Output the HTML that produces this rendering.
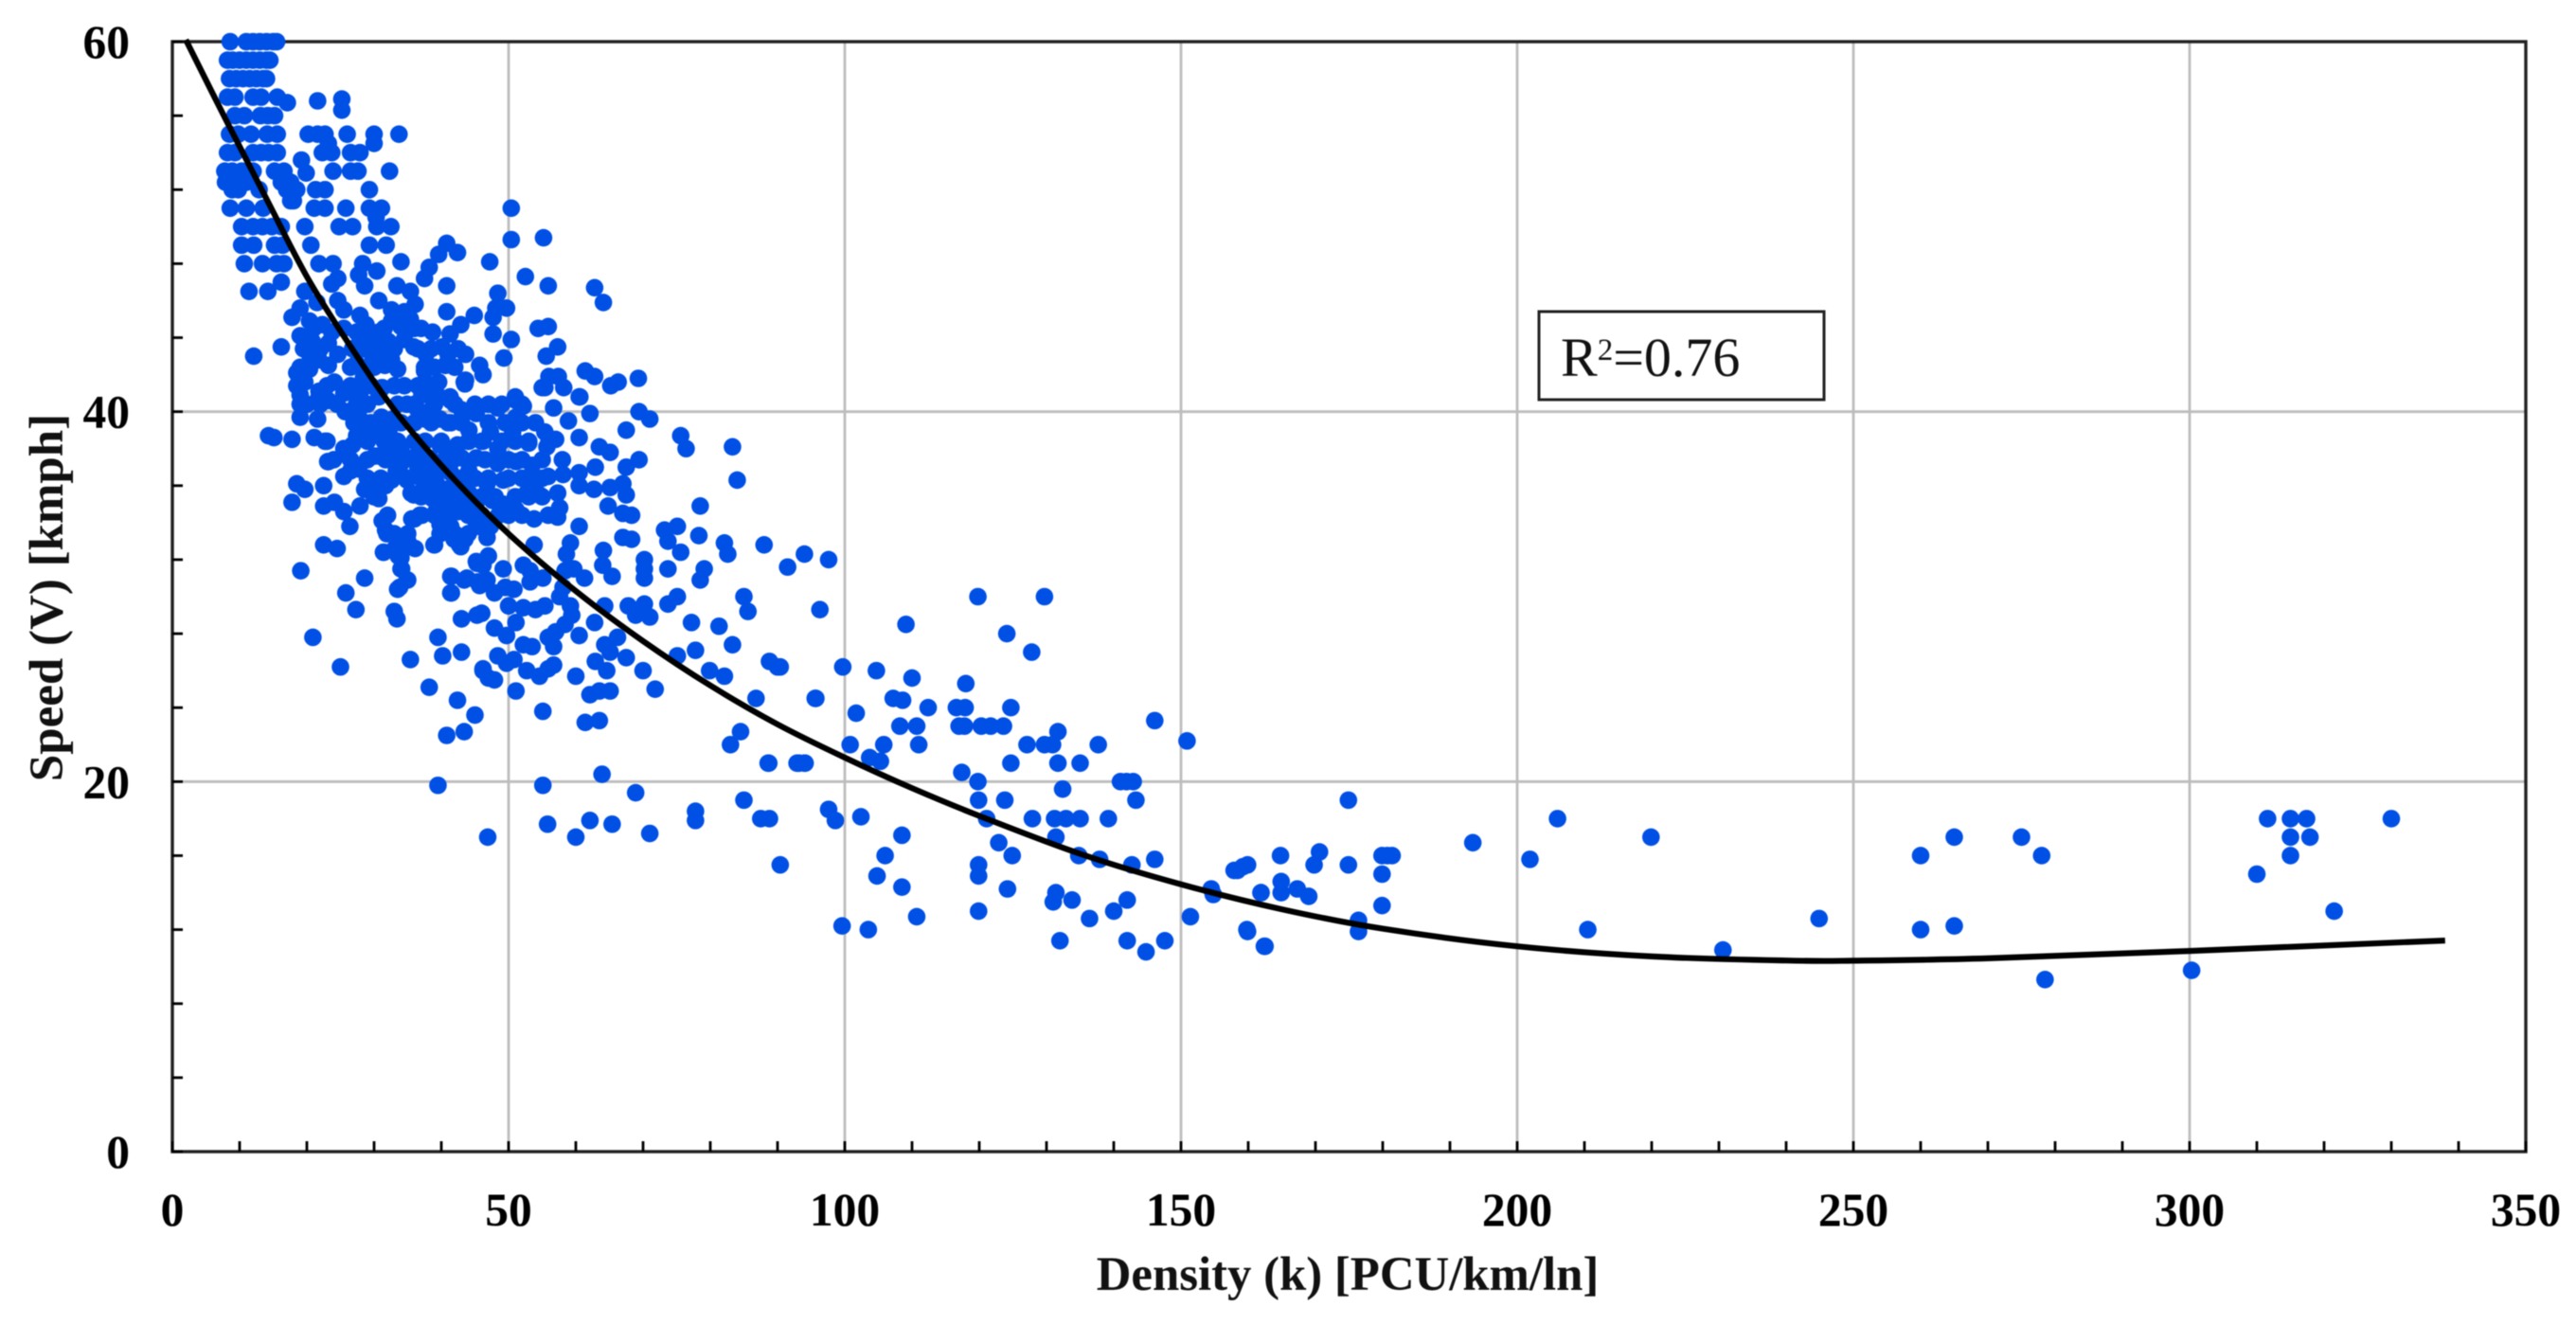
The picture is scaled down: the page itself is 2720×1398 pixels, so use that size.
<!DOCTYPE html>
<html lang="en">
<head>
<meta charset="utf-8">
<title>Speed vs Density</title>
<style>
html,body{margin:0;padding:0;background:#fff;width:2720px;height:1398px;overflow:hidden}
svg{display:block;font-family:"Liberation Serif",serif;filter:blur(0.5px)}
</style>
</head>
<body>
<svg id="chart" xmlns="http://www.w3.org/2000/svg" width="2720" height="1398" viewBox="0 0 2720 1398">
<g id="grid"></g>
<g id="frame"></g>
<g id="ticks"></g>
<g id="labels"></g>
<g id="dots"></g>
<path id="trend" fill="none" stroke="#000" stroke-width="6.2" stroke-linecap="butt" stroke-linejoin="round"></path>
<text x="1423" y="1362" text-anchor="middle" font-weight="bold" font-size="50.8" fill="#111">Density (k) [PCU/km/ln]</text>
<text transform="translate(66 631) rotate(-90)" text-anchor="middle" font-weight="bold" font-size="51" fill="#111">Speed (V) [kmph]</text>
<g>
<rect x="1625" y="329" width="301" height="93" fill="#fff" stroke="#222" stroke-width="3"></rect>
<text x="1648" y="397" font-size="58" fill="#111">R<tspan font-size="33" dy="-17">2</tspan><tspan dy="17">=0.76</tspan></text>
</g>
</svg>
<script>
const xTickLabels=[0,50,100,150,200,250,300,350];
const yTickLabels=[0,20,40,60];
const xMinorStep=10;
const yMinorStep=4;

const trendDensity=[2,8,14,20,26,33,41,50,60,70,80,90,100,110,120,135,150,165,180,200,220,240,250,270,300,338];
const trendSpeed=[60.1,55.75,51.5,47.3,43.8,40.1,36.7,33.4,30.3,27.6,25.2,23.1,21.3,19.65,18.15,16.1,14.45,13.1,12.05,11.1,10.55,10.33,10.32,10.45,10.85,11.41];

const topRowDensity=[
8.6,11,12,13,14,15,15.5,8.2,9,10,
11,12,13,14,14.5,8.5,9.5,10.5,11.5,12.5,
13.5,14,8.2,9.3,12,13.2,15.6,17.1,9.3,10.7,
13.1,14.2,15.2];
const topRowSpeed=[
60,60,60,60,60,60,60,59,59,59,
59,59,59,59,59,58,58,58,58,58,
58,58,57,57,57,57,57,56.7,56,56,
56,56,56];

const midRowDensity=[
8.5,9.8,11.7,14.1,15.6,8.2,9.3,12,13.2,14.3,
15.6,7.8,8.9,10.3,12,15.2,16.6,8.6,16.2,17.6,
8.9,9.8,12.9,17,18.5,17.6,18,8.6,11,13.5,
10.3,12,13.4,14.8,16.2,10.3,12.1,15.2,16.4,10.7,
13.4,15.5,16.6,16.2,11.4,14.2,7.9,9.8,11];
const midRowSpeed=[
55,55,55,55,55,54,54,54,54,54,
54,53,53,53,53,53,53,52.4,52.4,52.4,
52,52,52,52,52,51.4,51.4,51,51,51,
50,50,50,50,50,49,49,49,49,48,
48,48,48,47,46.5,46.5,52.4,52.4,52.4];

const upperDensity=[
21.6,25.2,25.2,20.2,21.6,22.7,26,30,33.7,23.7,
22.3,26.5,27.9,30,23.2,23.9,26.5,27.6,32.3,19.2,
19.9,21.3,22.7,29.3,21.1,22.7,25.8,29.3,31.1,50.4,
19.7,24.8,26.8,30.4,32.5,30.3,20.6,29.3,31.8,50.4,
55.2,21.8,23.9,28.3,30.4,34,40.8,42.4,39.6,38.2,
37.5,47.2,24.6,23.7,28.6,27.7,33.4,35.4,40.8,52.5,
55.9,62.8,64.1,48.4];
const upperSpeed=[
56.8,56.9,56.3,55,55,55,55,55,55,54,
54,54,54,54.5,54.5,53,53,53,53,53.6,
52.9,52,52,52,51,51,51,51,51,51,
50,50,50,50,50,50.5,49,49,49,49.3,
49.4,48,48,48,47.6,48.1,49.1,48.6,48.5,47.8,
47.2,48.1,47.2,46.9,46.8,47.4,46.8,46.5,46.8,47.3,
46.8,46.7,45.9,46.4];

const shoulderDensity=[
19.7,21.5,19,17.8,20.4,24.6,25.5,27.9,30.7,32.6,
34.5,36.1,28.8,30.7,32.6,34,35.4,22.3,23.7,27.4,
19,20.8,23.2,20.4,24.6,27.9,29.8,32.1,34.5,35.9,
37.7,40.1,41,40.8,43.6,45.7,46.2,43.6,37.5,32.6,
33.5,31.6,29.8,18.5,19.7,23.2,21.8,20.4,24.1,27.4,
28.4,31.2,34.5,36.8,39.6,39.4,41.3,21.8,19,25.5,
27.9];
const shoulderSpeed=[
46.5,45.9,45.6,45.1,44.9,46,45.5,45.2,46,45.5,
45.4,45.8,44.7,44.3,44.9,44.6,45,44.7,44.3,44.3,
44.1,43.8,43.7,43.1,43.1,44,43.7,43.8,43.9,43.5,
43.1,43.5,43.1,42.6,43.1,42.5,42,41.7,42.2,42.8,
42.3,42.5,43,42.1,41.6,42.5,42.8,42.3,41.6,42.6,
41.8,41.3,41.4,41.3,41.6,40.9,40.8,41.1,40.9,41,
41];

const eastUpperDensity=[
49.7,48.1,47.7,40.8,44.9,42.9,41.3,38.7,47.7,50.4,
54.4,55.9,57.3,55.6,49.3,61.4,62.8,66.3,65.2,69.3,
56,57.4,55,58.2,60.6,51,12.1,16.2];
const eastUpperSpeed=[
45.6,45.6,45.1,45.4,45.2,44.7,44.2,44.3,44.2,43.9,
44.5,44.6,43.5,43,42.9,42.2,41.9,41.6,41.4,41.8,
41.9,41.9,41.3,41.3,40.8,40.8,43,43.5];

const westDensity=[
14.3,15.1,17.8,19,19,21.6,21.8,23.2,21.1,22.7,
23.2,25.5,27.4,28.8,26,27.4,30.7,25.5,26.5,27.7,
18.5,19.7,17.8,22.5,22.5,24.1,25.5,27.9,26.4,28.6,
30.7,31.4,32.6,33.8,30.7,32.6,34,34,35.9,36.8,
35.6,36.8,31.2,31.9,35,36.1,33.1,31.4,34,34,
35,33.5,38.9,22.5,24.5,19.1,28.6,25.8,27.3,33,
33.4,20.9,25,39.5,35.4,40.2,43,38.2,42.4,45,
40.8,43.4,39.5,43,46,45.3,46.2,47,41.5,43.4,
40.6,39.2,37.8,41,43.4,45.3,42.4,41.5,43.9,40.1,
42,38.7,40.1,42.9,45.3,45.3,41.5,41.5,43.4,45.7];
const westSpeed=[
38.7,38.6,38.5,40.4,39.7,39.6,40.8,40.6,38.6,38.4,
37.3,38,38.7,39,40,40.4,40.8,36.5,36.8,36.9,
36.1,35.8,35.1,36,34.9,35.1,34.6,34.9,33.8,35.8,
35.3,36,36.3,36.7,37.6,37.6,37.9,37.2,35.5,35.6,
34.2,34.4,34.1,33.4,33,32.6,32.6,32.4,32.1,31.5,
30.9,30.4,32.8,32.8,32.6,31.4,31,30.2,29.3,29.2,
28.8,27.8,26.2,27.8,26.6,26.8,27,25.1,24.4,23.6,
22.5,22.7,19.8,28.8,29.1,29,26,25.6,40.6,41.6,
42.5,41.5,39.9,39.4,39.9,40.2,38.2,37.3,36.2,35.3,
34.8,35.3,34.3,32.7,33.8,31.8,31.1,30.2,30.9,30.6];

const coreDensity=[
36.5,38.1,39.8,41.4,37.6,39.2,40.8,42.5,44.1,38.7,
40.3,41.9,43.5,45.2,39.2,40.8,42.5,44.1,39.8,41.4,
36.5,38.1,34.9,33.3,43,44.1,41.9,39.8,37.6,44.1,
45.2,46.2,47.3,44.1,41.4,39.8,43,45.2,37.6,38.7,
37.1,34.9,36.5,32.8,31.1,30.1,27.9,27.6,25.7,32.2,
28.4,26.8,25.7,23.1,31.7,30.1,33.3,35.5,34.9,31.7,
30.6,28.7];
const coreSpeed=[
37,36.7,37,36.7,36,36.2,35.8,36,35.6,35.3,
35.1,35.3,35,35.1,34.6,34.4,34.6,34.4,33.9,33.8,
37.7,37.5,37.5,37.9,37.5,36.8,37.9,38.2,38.4,38.4,
37.5,38.4,38.9,39,39.4,39.6,40.1,39.9,39.6,40.2,
40.9,40.4,40.1,39.6,39.7,38.9,39.6,40.5,40,38.9,
38.9,38.2,37.7,37.3,37.4,37.6,36.8,35.6,36.3,36,
36,35.8];

const coreFillDensity=[
21,25.5,29,31.5,36,37,
19.5,22,26.8,28.5,31,33,36.5,38.5,42.5,
19,26.5,29,30,37.5,39,42,
18.5,23,26.5,29.5,33,36.5,38,
20,22,24.5,29,33.5,36,39,42,45,47,49,52,
27,29.5,31.5,34,36,38.5,43,47,49.5,52,54,
23,29,31.5,33.5,36,40,44,46,49,51,53,56,
24,26.5,29,36,38.5,40.5,46.5,50,52,55,58,
29,31,35,37,39,43,45,47,50,52,55,
30,37,39,41.5,44,46,48,51,53,55,
32,39,44,46,48.5,50,52,
33,35,42,44];
const coreFillSpeed=[
44.5,44.5,44.5,44.5,44.5,44.5,
43.4,43.4,43.4,43.4,43.4,43.4,43.4,43.4,43.4,
42.4,42.4,42.4,42.4,42.4,42.4,42.4,
41.4,41.4,41.4,41.4,41.4,41.4,41.4,
40.4,40.4,40.4,40.4,40.4,40.4,40.4,40.4,40.4,40.4,40.4,40.4,
39.4,39.4,39.4,39.4,39.4,39.4,39.4,39.4,39.4,39.4,39.4,
38.4,38.4,38.4,38.4,38.4,38.4,38.4,38.4,38.4,38.4,38.4,38.4,
37.4,37.4,37.4,37.4,37.4,37.4,37.4,37.4,37.4,37.4,37.4,
36.4,36.4,36.4,36.4,36.4,36.4,36.4,36.4,36.4,36.4,36.4,
35.4,35.4,35.4,35.4,35.4,35.4,35.4,35.4,35.4,35.4,
34.4,34.4,34.4,34.4,34.4,34.4,34.4,
33.4,33.4,33.4,33.4];

const centerDensity=[
48.4,51.1,52.2,51.1,41.4,43.5,55.4,60.5,62.1,56.7,
58.9,67.5,69.4,71,75.6,76.4,83.3,84,78.5,78.3,
75.1,73.2,73.7,75.6,82.1,82.6,88,91.5,94,73.7,
70.2,70.2,70.2,79.1,78.5,85,85.6,75.1,73.7,70.2,
67.8,71,68.9,77.2,81.3,83.3,77.8,75.1,88.8,90,
79.9,82.1,86.8,70,67.5,66.2,64.3,65.1,62.9,64.6,
60,60.5,62.8,64.3,61.3,59.7,58.4,64,65.4,64.1,
71.8,65.1,62.1,63.5,63.5,61.4,55.1,63.9,55.1,68.9,
84.5,83,88.7,93.1,85,77.8,77.8,87.5,88.8,71,
65.4,62.1,55.8,60,46.9];
const centerSpeed=[
40.2,40.6,40.3,39.7,40.6,41.5,41.3,40.8,39.9,40.2,
39.5,39,40,39.6,38.7,38,38.1,36.3,34.9,33.3,
33.8,33.6,33,32.4,32.9,32.3,32.8,31.6,32.3,31.5,
32,31.5,31,31.5,30.9,30,29.2,30,29.6,29.6,
29.5,28.9,29,28.6,28.4,27.4,27.1,26.8,26.5,26.2,
26,25.7,24.5,26,26.7,27.8,27.4,27,26.5,26,
25.7,27.9,28.6,29.5,31,31.5,31.4,31.7,31.1,32.5,
25,24.9,24.7,24.9,23.3,23.2,23.8,20.4,19.8,19.4,
22.7,22,21,21,19,18.4,17.9,18,18,17.2,
17.7,17.9,17.7,17,17];

const ringDensity=[
51.1,47.9,46.2,49.7,48.4,50.8,52.2,53.5,55.9,57,
56.7,56.7,54.6,52.7,55.9,49.7,47.9,43,46,51.1,
50,52.2,54,55.4,59.2,59.4,58.4,57.6,58.1,41.4,
41.4,43.8,45.4,46.8,47.9,49.2,49.5,50.8,45.2,47,
46.2,52.2,53.2,53.2,55.1,53.8,33.8,34.9,34.1,35.5,
31.4,33.6,39,42.7,43.5,41.9,39.8,46.8,45.2,47.3,
36,37.1,31.7,34.9,58.6,59.2,60.5,57.3,55.9,53.8,
51.1,49.2,47.6,57.6,57.3,54.6,52.7,53.5,53.5,55.9,
58.1,60.5,60.5,62.7,65.1,67,67.5,64.8,67,68.3,
67,68.3,62.9,67.5,69.4,63.5,65.1,60.5,55.4,57,
55.7,53,50.6,48.4,51.1,48.4,49.2,46.8];
const ringSpeed=[
24.9,25.5,26.1,26.4,26.8,26.6,27.4,27.3,27.8,28.1,
27.3,26.3,25.7,26,26.1,27.9,28.3,28.8,29.1,28.6,
29.5,29.4,29.3,29.5,29.5,29,28.5,30,30.5,31.1,
30.2,31,30.8,30.9,30.2,31.5,30.5,30.4,31.9,32.2,
31.7,31.7,31.4,30.8,31,32.8,30.5,30.9,31.5,32.7,
32.4,32.2,32.8,32.8,33.1,33.1,33.4,33.2,33.8,33.8,
34.2,34.4,33.6,33.1,32.3,32.9,33.8,34.3,34.4,34.2,
34.7,35,35.2,34.8,35.6,35.5,35.6,37.1,36.3,36.5,
36.6,36.7,36,35.8,35.9,36.1,35.5,34.9,34.5,34.4,
33.2,33.1,37,37,37.4,38.1,37.8,38.6,38.9,38.5,
38.1,38.3,38.9,38,37.3,37.2,36.3,36.1];

const congestedDensity=[
97.6,96.3,109.1,119.8,129.7,124.1,127.8,99.7,104.7,110,
107.2,108.6,112.4,116.6,117.9,118,124.7,101.7,108.2,110.7,
117,117.8,120.3,121.7,123.6,131.7,100.8,105.8,111,127.1,
129.7,130.9,137.7,103.7,105.3,124.7,131.7,135,117.4,119.8,
132.4,141,141.9,142.9,95.6,88.6,92.9,94,146.1,150.9,
143.3,119.9,123.8,127.9,131.2,132.9,135,139.2,121.1,131.4,
122.9,124.9,134.8,137.9,142.7,146.1,119.9,119.9,124.2,131.4,
131,133.8,142,140,136.4,119.9,132,142,144.8,147.6,
151.4,154.5,154.8,157.9,159.2,159.9,161.9,159.9,162.4,97.6,
98.6,102.4,108.5,106,104.8,108.5,110.7,99.6,103.5,90.4,
90.4,95.7,93.2,94.1];
const congestedSpeed=[
32,29.3,28.5,30,30,28,27,26.2,26,25.6,
24.5,24.4,24,24,24,25.3,24,23.7,23,23,
23,23,23,23,23,22.7,22,22,22,22,
22,22,22,21.3,21.1,21,21,21,20.5,20,
19.6,20,20,20,24.5,21,21,21,23.3,22.2,
19,19,19,18,18,18,18,18,18,17,
16.7,16,16,15.8,15.5,15.8,15.5,14.9,14.2,14,
13.5,13.6,13.6,13,12.6,13,11.4,11.4,10.8,11.4,
12.7,14.2,13.9,15.2,15.4,15.5,14,11.9,11.1,18.5,
17.9,18.1,17.1,16,14.9,14.3,12.7,12.2,12,15.5,
26.2,24.5,21,21];

const jamDensity=[
174.9,193.4,206,201.9,219.9,210.5,164.8,170.6,169.8,174.9,
179.9,181.4,180.7,179.9,179.9,164.9,164.9,167.3,169,161.9,
176.4,176.4,159.8,162.5,230.6,158.4,244.9,260,265,260,
265,275,278,278.5,300.3,311.6,315,317.4,315,317.9,
315,310,321.5,330];
const jamSpeed=[
19,16.7,18,15.8,17,12,16,16.2,15.5,15.5,
16,16,16,15,13.3,14.6,14,14.2,13.8,14,
12.5,11.9,12,11.1,10.9,15.2,12.6,16,17,12,
12.2,17,16,9.3,9.8,18,18,18,17,17,
16,15,13,18];

const densityGroups=[topRowDensity,midRowDensity,upperDensity,shoulderDensity,eastUpperDensity,westDensity,coreDensity,coreFillDensity,centerDensity,ringDensity,congestedDensity,jamDensity];
const speedGroups=[topRowSpeed,midRowSpeed,upperSpeed,shoulderSpeed,eastUpperSpeed,westSpeed,coreSpeed,coreFillSpeed,centerSpeed,ringSpeed,congestedSpeed,jamSpeed];

const SVG_NS='http://www.w3.org/2000/svg';
const plotLeft=182,plotRight=2667,plotTop=44,plotBottom=1216;
const xMax=350,yMax=60;
function xScale(k){return plotLeft+k/xMax*(plotRight-plotLeft);}
function yScale(v){return plotBottom-v/yMax*(plotBottom-plotTop);}
function makeEl(tag,parent,attrs){
  const el=document.createElementNS(SVG_NS,tag);
  for(const key in attrs){el.setAttribute(key,attrs[key]);}
  parent.appendChild(el);
  return el;
}

const gridLayer=document.getElementById('grid');
xTickLabels.forEach(function(t){
  if(t===0||t===xMax){return;}
  const line=makeEl('line',gridLayer,{x1:xScale(t),x2:xScale(t),y1:plotTop,y2:plotBottom,stroke:'#bdbdbd','stroke-width':2.8});
  
  
});
yTickLabels.forEach(function(t){
  if(t===0||t===yMax){return;}
  const line=makeEl('line',gridLayer,{x1:plotLeft,x2:plotRight,y1:yScale(t),y2:yScale(t),stroke:'#bdbdbd','stroke-width':2.8});
  
  
});

const frameLayer=document.getElementById('frame');
const frameRect=makeEl('rect',frameLayer,{x:plotLeft,y:plotTop,width:plotRight-plotLeft,height:plotBottom-plotTop,fill:'none',stroke:'#222','stroke-width':3.4});



const tickLayer=document.getElementById('ticks');
for(let t=0;t<=xMax;t+=xMinorStep){
  const tick=makeEl('line',tickLayer,{x1:xScale(t),x2:xScale(t),y1:plotBottom-11,y2:plotBottom,stroke:'#000','stroke-width':2.8});
  
  
}
for(let t=0;t<=yMax;t+=yMinorStep){
  const tick=makeEl('line',tickLayer,{x1:plotLeft,x2:plotLeft+11,y1:yScale(t),y2:yScale(t),stroke:'#000','stroke-width':2.8});
  
  
}

const labelLayer=document.getElementById('labels');
xTickLabels.forEach(function(t){
  const label=makeEl('text',labelLayer,{x:xScale(t),y:1294,'text-anchor':'middle','font-weight':'bold','font-size':49.5,fill:'#000'});
  label.textContent=String(t);
  
  
});
yTickLabels.forEach(function(t){
  const label=makeEl('text',labelLayer,{x:137,y:yScale(t)+17,'text-anchor':'end','font-weight':'bold','font-size':49.5,fill:'#000'});
  label.textContent=String(t);
  
  
});

const dotLayer=document.getElementById('dots');
densityGroups.forEach(function(densities,g){
  const speeds=speedGroups[g];
  const n=Math.min(densities.length,speeds.length);
  for(let i=0;i<n;i++){
    const dot=makeEl('circle',dotLayer,{cx:xScale(densities[i]),cy:yScale(speeds[i]),r:9.3,fill:'#0050e6'});
    
    
  }
});

(function drawTrend(){
  const pts=trendDensity.map(function(k,i){return [xScale(k),yScale(trendSpeed[i])];});
  let d='M'+pts[0][0].toFixed(1)+' '+pts[0][1].toFixed(1);
  for(let i=0;i<pts.length-1;i++){
    const p0=pts[Math.max(i-1,0)],p1=pts[i],p2=pts[i+1],p3=pts[Math.min(i+2,pts.length-1)];
    const c1x=p1[0]+(p2[0]-p0[0])/6,c1y=p1[1]+(p2[1]-p0[1])/6;
    const c2x=p2[0]-(p3[0]-p1[0])/6,c2y=p2[1]-(p3[1]-p1[1])/6;
    d+='C'+c1x.toFixed(1)+' '+c1y.toFixed(1)+' '+c2x.toFixed(1)+' '+c2y.toFixed(1)+' '+p2[0].toFixed(1)+' '+p2[1].toFixed(1);
  }
  document.getElementById('trend').setAttribute('d',d);
})();
</script>
</body>
</html>
